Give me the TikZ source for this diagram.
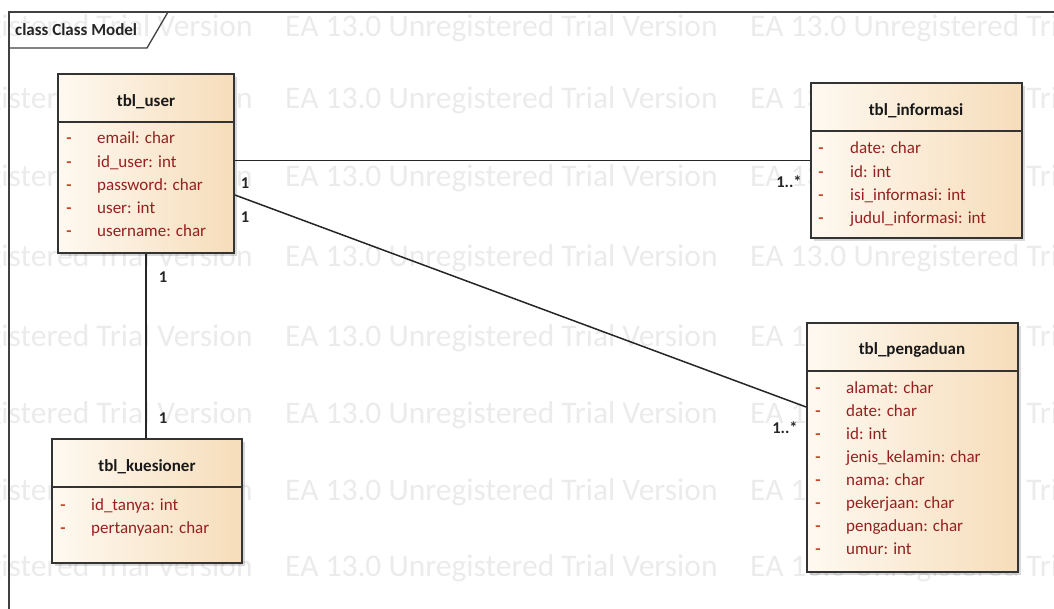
\documentclass[tikz,border=0pt]{standalone}
\usepackage{fontspec}
\setmainfont{Carlito}
\usetikzlibrary{shadows}

\definecolor{boxL}{RGB}{254,249,241}
\definecolor{boxR}{RGB}{246,221,186}
\definecolor{attrred}{RGB}{150,32,32}
\definecolor{dashred}{RGB}{200,70,40}

\tikzset{
  frameline/.style={draw=black!75, line width=1.3pt},
  classbody/.style={draw=black!80, line width=1.8pt, left color=boxL, right color=boxR,
    inner sep=0pt, drop shadow={shadow xshift=3pt, shadow yshift=-3pt, opacity=0.15, fill=black}},
  sepline/.style={draw=black!80, line width=1.5pt},
  ctitle/.style={font=\fontsize{17}{20}\selectfont\bfseries, text=black!90, inner sep=0pt},
  attr/.style={font=\fontsize{17}{20}\selectfont, text=attrred, anchor=west, inner sep=0pt,
    text height=0.8em, text depth=0.2em},
  vis/.style={font=\fontsize{17}{20}\selectfont\bfseries, text=dashred, inner sep=0pt,
    text height=0.8em, text depth=0.2em},
  mult/.style={font=\fontsize{16.5}{19}\selectfont\bfseries, text=black!85, inner sep=0pt},
  wm/.style={font=\fontsize{31.5}{36}\selectfont, text=black!8, anchor=west, inner sep=0pt},
  assoc/.style={draw=black!85, line width=1.5pt},
}

% attribute list: prefix, dash x, first row y, text x, items
\newcommand\classattrs[5]{%
  \foreach \t [count=\i] in {#5} {
    \node[vis]  (#1-d\i) at ({#2},{#3+(\i-1)*23.1}) {-};
    \node[attr] (#1-a\i) at ({#4},{#3+(\i-1)*23.1}) {\t};
  }%
}

\begin{document}
\begin{tikzpicture}[x=1pt,y=-1pt]
\useasboundingbox (0,0) rectangle (1054,609);

% watermark rows
\begin{scope}
  \clip (0,0) rectangle (1054,609);
  \foreach \yy [count=\r] in {28,100,178,258,338,415,492,568} {
    \foreach \xx [count=\c] in {-180,285,750} {
      \node[wm] (wm-\r-\c) at (\xx,\yy) {EA 13.0 Unregistered Trial Version};
    }
  }
\end{scope}

% diagram frame and its tab
\draw[frameline] (9,625) -- (9,12) -- (1070,12);
\draw[frameline] (9,48) -- (147,48) -- (168,12);
\node[font=\fontsize{17}{20}\selectfont\bfseries, text=black!85, anchor=west, inner sep=0pt] (frametitle) at (15,30) {class Class Model};

% class boxes
\node[classbody, minimum width=176pt, minimum height=179pt] (user) at (146,163.5) {};
\node[classbody, minimum width=211pt, minimum height=155pt] (informasi) at (916.5,160.5) {};
\node[classbody, minimum width=211pt, minimum height=249pt] (pengaduan) at (912.5,447.5) {};
\node[classbody, minimum width=190pt, minimum height=124pt] (kuesioner) at (147,501) {};

% associations
\draw[assoc] (informasi.west -| user.east) -- (informasi.west);
\draw[assoc] ([yshift=-31.5pt]user.east) -- ([yshift=40.5pt]pengaduan.west);
\draw[assoc] (user.south) -- (user.south |- kuesioner.north);

% compartment separators
\draw[sepline] (user.west |- 0,122) -- (user.east |- 0,122);
\draw[sepline] (informasi.west |- 0,131) -- (informasi.east |- 0,131);
\draw[sepline] (pengaduan.west |- 0,371) -- (pengaduan.east |- 0,371);
\draw[sepline] (kuesioner.west |- 0,487) -- (kuesioner.east |- 0,487);

% class names
\node[ctitle] (user-t) at (146,102) {tbl\_user};
\node[ctitle] (informasi-t) at (916,111) {tbl\_informasi};
\node[ctitle] (pengaduan-t) at (912,350) {tbl\_pengaduan};
\node[ctitle] (kuesioner-t) at (147,467) {tbl\_kuesioner};

% attributes
\classattrs{user}{69}{141}{97}{email: char, id\_user: int, password: char, user: int, username: char}
\classattrs{informasi}{821}{151}{850}{date: char, id: int, isi\_informasi: int, judul\_informasi: int}
\classattrs{pengaduan}{818}{390}{846}{alamat: char, date: char, id: int, jenis\_kelamin: char, nama: char, pekerjaan: char, pengaduan: char, umur: int}
\classattrs{kuesioner}{63}{507}{91}{id\_tanya: int, pertanyaan: char}

% multiplicities
\node[mult] (m1) at (245,183) {1};
\node[mult] (m2) at (245,217) {1};
\node[mult] (m3) at (163,277) {1};
\node[mult] (m4) at (163,418) {1};
\node[mult] (m5) at (789,182) {1..*};
\node[mult] (m6) at (785,428) {1..*};
\end{tikzpicture}
\end{document}
